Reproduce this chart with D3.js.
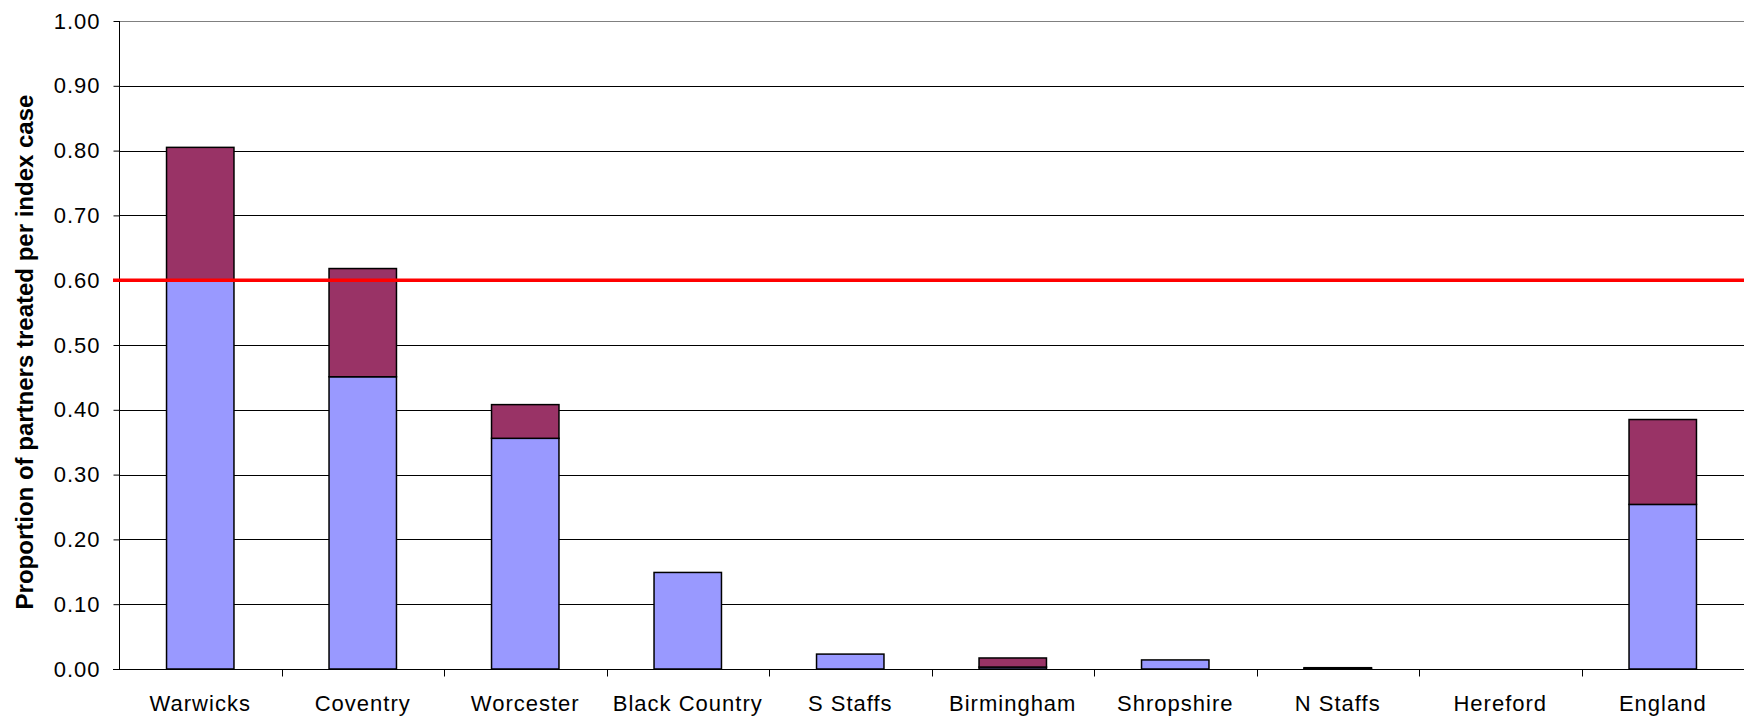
<!DOCTYPE html>
<html lang="en">
<head>
<meta charset="utf-8">
<title>Partners treated per index case</title>
<script src="https://d3js.org/d3.v7.min.js"></script>
<style>
  body { margin: 0; background: #fff; }
  svg { display: block; font-family: "Liberation Sans", Arial, sans-serif; }
</style>
</head>
<body>
<script>

var categories = ["Warwicks", "Coventry", "Worcester", "Black Country", "S Staffs",
                  "Birmingham", "Shropshire", "N Staffs", "Hereford", "England"]
var treated    = [0.600, 0.451, 0.356, 0.149, 0.023, 0.003, 0.014, 0.001, 0, 0.254]
var additional = [0.205, 0.167, 0.052, 0, 0, 0.014, 0, 0.001, 0, 0.131]
var yTicks = [0, 0.1, 0.2, 0.3, 0.4, 0.5, 0.6, 0.7, 0.8, 0.9, 1.0]
var target = 0.60

var width = 1744,
    height = 717
var margin = {top: 21, right: 0, bottom: 48, left: 119}

var svg = d3.select("body").append("svg")
    .attr("width", width)
    .attr("height", height)

var x = d3.scaleBand()
    .domain(categories)
    .range([margin.left, width - margin.right])
    .padding(0)

var y = d3.scaleLinear()
    .domain([0, 1])
    .range([height - margin.bottom, margin.top])

var barW = x.bandwidth() * 0.415

// gridlines
svg.append("g")
  .selectAll("line")
  .data(yTicks.slice(1))
  .enter().append("line")
    .attr("x1", margin.left)
    .attr("x2", width)
    .attr("y1", function(d) { return Math.round(y(d)) + 0.5 })
    .attr("y2", function(d) { return Math.round(y(d)) + 0.5 })
    .attr("stroke", function(d) { return d === 1 ? "#808080" : "#000" })
    .attr("stroke-width", 1)

// stacked bars
var rows = categories.map(function(c, i) {
  return {cat: c, a: treated[i], b: additional[i]}
})

var bars = svg.append("g")
  .selectAll("g")
  .data(rows)
  .enter().append("g")

bars.filter(function(d) { return d.a > 0 })
  .append("rect")
    .attr("x", function(d) { return x(d.cat) + (x.bandwidth() - barW) / 2 })
    .attr("width", barW)
    .attr("y", function(d) { return y(d.a) })
    .attr("height", function(d) { return y(0) - y(d.a) })
    .attr("fill", "#9999ff")
    .attr("stroke", "#000")
    .attr("stroke-width", 1.5)

bars.filter(function(d) { return d.b > 0 })
  .append("rect")
    .attr("x", function(d) { return x(d.cat) + (x.bandwidth() - barW) / 2 })
    .attr("width", barW)
    .attr("y", function(d) { return y(d.a + d.b) })
    .attr("height", function(d) { return y(d.a) - y(d.a + d.b) })
    .attr("fill", "#993366")
    .attr("stroke", "#000")
    .attr("stroke-width", 1.5)

// y axis
var yAxis = svg.append("g")
    .attr("transform", "translate(" + (margin.left + 0.5) + ",0)")
    .call(d3.axisLeft(y)
      .tickValues(yTicks)
      .tickSize(6)
      .tickPadding(13)
      .tickFormat(d3.format(".2f")))
yAxis.selectAll("text")
    .attr("font-size", 22)
    .attr("letter-spacing", 1)
    .attr("font-family", "Liberation Sans, Arial, sans-serif")
    .attr("fill", "#000")
yAxis.select(".domain").attr("stroke", "#000").attr("d", "M0," + y(1) + "V" + y(0))
yAxis.selectAll(".tick line").attr("stroke", "#000")

// x axis
var x0 = Math.round(y(0)) + 0.5
svg.append("line")
    .attr("x1", margin.left - 6).attr("x2", width)
    .attr("y1", x0).attr("y2", x0)
    .attr("stroke", "#000")

svg.append("g")
  .selectAll("line")
  .data(categories.slice(1))
  .enter().append("line")
    .attr("x1", function(d) { return Math.round(x(d)) + 0.5 })
    .attr("x2", function(d) { return Math.round(x(d)) + 0.5 })
    .attr("y1", x0)
    .attr("y2", x0 + 7)
    .attr("stroke", "#000")

svg.append("g")
  .selectAll("text")
  .data(categories)
  .enter().append("text")
    .attr("x", function(d) { return x(d) + x.bandwidth() / 2 })
    .attr("y", 711)
    .attr("text-anchor", "middle")
    .attr("font-size", 22)
    .attr("letter-spacing", 1)
    .text(function(d) { return d })

// target line
svg.append("line")
    .attr("x1", margin.left - 6)
    .attr("x2", width)
    .attr("y1", y(target))
    .attr("y2", y(target))
    .attr("stroke", "#ff0000")
    .attr("stroke-width", 3.5)

// y title
svg.append("text")
    .attr("transform", "translate(33,352) rotate(-90)")
    .attr("text-anchor", "middle")
    .attr("font-size", 24)
    .attr("font-weight", "bold")
    .text("Proportion of partners treated per index case")

</script>
</body>
</html>
